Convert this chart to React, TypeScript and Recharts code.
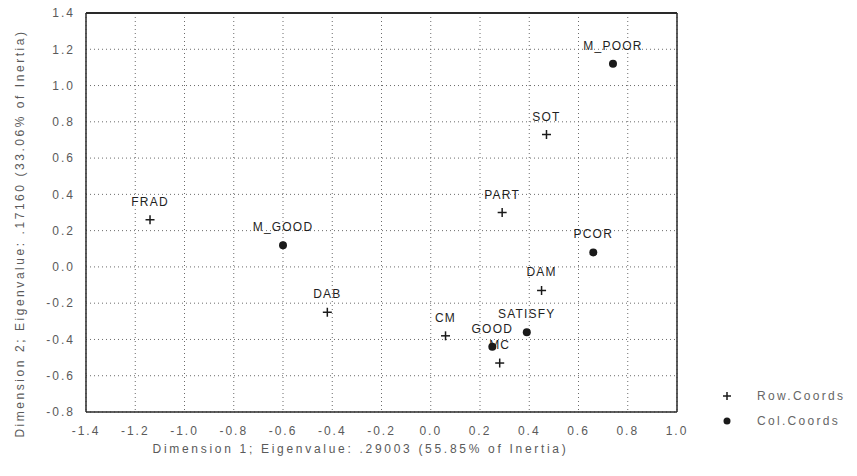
import React from 'react';
import { ScatterChart, Scatter, XAxis, YAxis, CartesianGrid, ReferenceLine, Legend, Label } from 'recharts';

// ticks
const X_TICKS = [-1.4, -1.2, -1.0, -0.8, -0.6, -0.4, -0.2, 0.0, 0.2, 0.4, 0.6, 0.8, 1.0];
const Y_TICKS = [-0.8, -0.6, -0.4, -0.2, 0.0, 0.2, 0.4, 0.6, 0.8, 1.0, 1.2, 1.4];

// row coordinates (+)
const ROW_NAMES = ['FRAD', 'DAB', 'CM', 'MC', 'DAM', 'PART', 'SOT'];
const ROW_X = [-1.14, -0.42, 0.06, 0.28, 0.45, 0.29, 0.47];
const ROW_Y = [0.26, -0.25, -0.38, -0.53, -0.13, 0.30, 0.73];

// column coordinates (●)
const COL_NAMES = ['M_GOOD', 'GOOD', 'SATISFY', 'PCOR', 'M_POOR'];
const COL_X = [-0.60, 0.25, 0.39, 0.66, 0.74];
const COL_Y = [0.12, -0.44, -0.36, 0.08, 1.12];

const X_TITLE = 'Dimension 1; Eigenvalue: .29003 (55.85% of Inertia)';
const Y_TITLE = 'Dimension 2; Eigenvalue: .17160 (33.06% of Inertia)';

const rowData = ROW_NAMES.map((name, i) => ({ name, x: ROW_X[i], y: ROW_Y[i] }));
const colData = COL_NAMES.map((name, i) => ({ name, x: COL_X[i], y: COL_Y[i] }));

const FONT = '"Liberation Sans", Arial, sans-serif';
const INK = '#1a1a1a';
const TXT = '#5a5a5a';

function PointLabel({ cx, cy, name }: { cx: number; cy: number; name: string }) {
  return (
    <text x={cx} y={cy - 12} textAnchor="middle" fontSize={12} letterSpacing={1.2}
      fontFamily={FONT} fill="#1f1f1f">
      {name}
    </text>
  );
}

const PlusShape = (props: any) => {
  const { cx, cy, payload } = props;
  return (
    <g>
      <line x1={cx - 4.5} x2={cx + 4.5} y1={cy} y2={cy} stroke={INK} strokeWidth={1.5} />
      <line x1={cx} x2={cx} y1={cy - 4.5} y2={cy + 4.5} stroke={INK} strokeWidth={1.5} />
      <PointLabel cx={cx} cy={cy - 2} name={payload.name} />
    </g>
  );
};

const DotShape = (props: any) => {
  const { cx, cy, payload } = props;
  return (
    <g>
      <circle cx={cx} cy={cy} r={4} fill={INK} />
      <PointLabel cx={cx} cy={cy - 2} name={payload.name} />
    </g>
  );
};

function LegendBox() {
  const row = { display: 'flex', alignItems: 'center', height: 25, fontFamily: FONT, fontSize: 12, letterSpacing: 2.3, color: '#666' };
  return (
    <div>
      <div style={row}>
        <svg width={37} height={14}>
          <line x1={3} x2={11} y1={7} y2={7} stroke={INK} strokeWidth={1.5} />
          <line x1={7} x2={7} y1={3} y2={11} stroke={INK} strokeWidth={1.5} />
        </svg>
        <span>Row.Coords</span>
      </div>
      <div style={row}>
        <svg width={37} height={14}>
          <circle cx={7} cy={7} r={3.5} fill={INK} />
        </svg>
        <span>Col.Coords</span>
      </div>
    </div>
  );
}

const fmt = (v: number) => v.toFixed(1);

export default function App() {
  return (
    <div style={{ position: 'absolute', left: 0, top: 0, width: 857, height: 476, background: '#fff' }}>
      <ScatterChart width={857} height={476} margin={{ top: 13, right: 180, left: 16, bottom: 34 }}>
        <CartesianGrid stroke="#6b6b6b" strokeDasharray="1 3" horizontalValues={Y_TICKS} verticalValues={X_TICKS} />
        <XAxis
          type="number" dataKey="x" domain={[-1.4, 1.0]} ticks={X_TICKS} tickFormatter={fmt}
          height={30} tickLine={false} tickMargin={8} axisLine={{ stroke: '#2a2a2a', strokeWidth: 1.5 }}
          tick={{ fill: TXT, fontSize: 12, fontFamily: FONT, letterSpacing: 2 }} interval={0}
        >
          <Label content={(p: any) => {
            const vb = p.viewBox;
            return (
              <text x={vb.x + vb.width / 2 - 21} y={vb.y + vb.height + 11} textAnchor="middle"
                fontSize={12} fontFamily={FONT} letterSpacing={2.7} fill={TXT}>{X_TITLE}</text>
            );
          }} />
        </XAxis>
        <YAxis
          type="number" dataKey="y" domain={[-0.8, 1.4]} ticks={Y_TICKS} tickFormatter={fmt}
          width={70} tickLine={false} tickMargin={5} axisLine={{ stroke: '#2a2a2a', strokeWidth: 1.5 }}
          tick={{ fill: TXT, fontSize: 12, fontFamily: FONT, letterSpacing: 2 }} interval={0}
        >
          <Label content={(p: any) => {
            const vb = p.viewBox;
            const cx = 24;
            const cy = vb.y + vb.height / 2 + 21;
            return (
              <text x={cx} y={cy} textAnchor="middle" transform={`rotate(-90 ${cx} ${cy})`}
                fontSize={12} fontFamily={FONT} letterSpacing={2.55} fill={TXT}>{Y_TITLE}</text>
            );
          }} />
        </YAxis>
        <ReferenceLine y={1.4} stroke="#2a2a2a" strokeWidth={2} />
        <ReferenceLine x={1.0} stroke="#2a2a2a" strokeWidth={1.5} />
        <Legend
          layout="vertical" align="center" verticalAlign="middle"
          wrapperStyle={{ left: 720, top: 383, width: 137 }}
          content={() => <LegendBox />}
        />
        <Scatter name="Row.Coords" data={rowData} shape={PlusShape} isAnimationActive={false} />
        <Scatter name="Col.Coords" data={colData} shape={DotShape} isAnimationActive={false} />
      </ScatterChart>
    </div>
  );
}
